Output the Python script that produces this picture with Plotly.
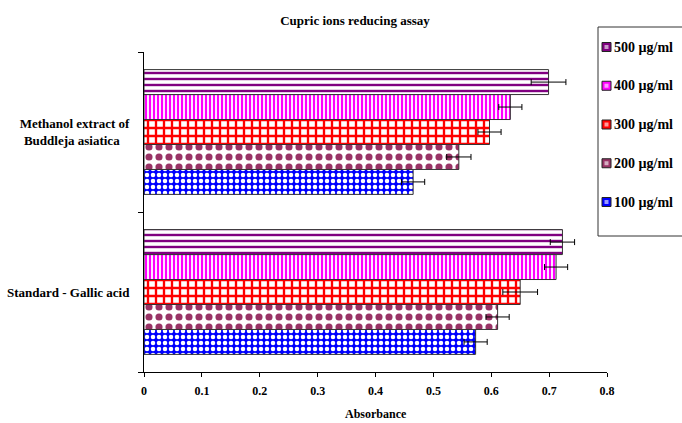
import plotly.graph_objects as go

categories = ["Standard - Gallic acid", "Methanol extract of<br>Buddleja asiatica"]
series_names = ["100 µg/ml", "200 µg/ml", "300 µg/ml", "400 µg/ml", "500 µg/ml"]
# values per series: [Standard, Methanol]
v100 = [0.573, 0.465]
v200 = [0.611, 0.544]
v300 = [0.650, 0.597]
v400 = [0.712, 0.633]
v500 = [0.723, 0.699]
e100 = [0.020, 0.020]
e200 = [0.020, 0.021]
e300 = [0.030, 0.020]
e400 = [0.020, 0.020]
e500 = [0.021, 0.030]
x_ticks = [0, 0.1, 0.2, 0.3, 0.4, 0.5, 0.6, 0.7, 0.8]
x_title = "Absorbance"

values = [v100, v200, v300, v400, v500]
errors = [e100, e200, e300, e400, e500]
styles = [
    dict(shape=".", fg="#FFFFFF", bg="#0000FF", size=6, sol=0.45),
    dict(shape=".", fg="#993366", bg="#FFFFFF", size=10, sol=0.4),
    dict(shape="+", fg="#FF0000", bg="#FFFFFF", size=8, sol=0.5),
    dict(shape="|", fg="#FF00FF", bg="#FFFFFF", size=4, sol=0.55),
    dict(shape="-", fg="#800080", bg="#FFFFFF", size=6, sol=0.4),
]
swatch_colors = ["#0000FF", "#993366", "#FF0000", "#FF00FF", "#800080"]

FONT = "Liberation Serif"
W, H = 682, 423
L, R, T, B = 144, 75, 52, 51
PW, PH = W - L - R, H - T - B


def px_x(px):
    return (px - L) / PW


def px_y(py):
    return (H - B - py) / PH


fig = go.Figure()
for name, vals, errs, st in zip(series_names, values, errors, styles):
    fig.add_trace(go.Bar(
        y=categories, x=vals, name=name, orientation="h",
        showlegend=False,
        marker=dict(
            color=st["bg"],
            line=dict(color="#333333", width=1),
            pattern=dict(shape=st["shape"], fgcolor=st["fg"], bgcolor=st["bg"],
                         size=st["size"], solidity=st["sol"], fillmode="replace"),
        ),
        error_x=dict(type="data", array=errs, visible=True, color="#000000",
                     thickness=1, width=3),
    ))

shapes = []
annotations = []
# legend box
shapes.append(dict(type="rect", xref="paper", yref="paper",
                   x0=px_x(598), x1=px_x(700), y0=px_y(236), y1=px_y(27),
                   line=dict(color="#333333", width=1), fillcolor="white", layer="above"))
for i, (name, col) in enumerate(zip(reversed(series_names), reversed(swatch_colors))):
    cy = 47 + 38.75 * i
    shapes.append(dict(type="rect", xref="paper", yref="paper",
                       x0=px_x(602), x1=px_x(611), y0=px_y(cy + 4.5), y1=px_y(cy - 4.5),
                       line=dict(color="#222222", width=1), fillcolor=col, layer="above"))
    shapes.append(dict(type="rect", xref="paper", yref="paper",
                       x0=px_x(604.5), x1=px_x(608.5), y0=px_y(cy + 2), y1=px_y(cy - 2),
                       line=dict(width=0), fillcolor="white", opacity=0.6, layer="above"))
    annotations.append(dict(xref="paper", yref="paper", x=px_x(612), y=px_y(cy),
                            xanchor="left", yanchor="middle", showarrow=False,
                            text="<b>" + name + "</b>",
                            font=dict(family=FONT, size=14, color="black")))
# x-axis title
annotations.append(dict(xref="paper", yref="paper", x=0.5, y=px_y(414),
                        xanchor="center", yanchor="middle", showarrow=False,
                        text="<b>" + x_title + "</b>",
                        font=dict(family=FONT, size=12, color="black")))

fig.update_layout(
    width=W, height=H,
    margin=dict(l=L, r=R, t=T, b=B, autoexpand=False),
    paper_bgcolor="white", plot_bgcolor="white",
    barmode="group", bargap=0.22, bargroupgap=0,
    font=dict(family=FONT, size=12, color="black"),
    title=dict(text="<b>Cupric ions reducing assay</b>", x=355 / W, xanchor="center",
               y=1 - 20 / H, yanchor="middle", font=dict(family=FONT, size=13)),
    showlegend=False,
    shapes=shapes,
    annotations=annotations,
)
fig.update_xaxes(
    range=[0, 0.8], tickvals=x_ticks,
    ticktext=["<b>%g</b>" % t for t in x_ticks],
    showline=True, linecolor="black", linewidth=1,
    ticks="outside", ticklen=4, tickcolor="black",
    showgrid=False, zeroline=False, ticklabelstandoff=4,
    tickfont=dict(family=FONT, size=12),
)
fig.update_yaxes(
    categoryorder="array", categoryarray=categories,
    tickvals=categories,
    ticktext=["<b>Standard - Gallic acid</b>",
              "<b>Methanol extract of<br>Buddleja asiatica&nbsp;&nbsp;&nbsp;</b>"],
    showline=True, linecolor="black", linewidth=1,
    ticks="outside", ticklen=5, tickcolor="black", tickson="boundaries",
    showgrid=False, zeroline=False, ticklabelstandoff=11,
    tickfont=dict(family=FONT, size=13),
)

fig.write_html("out.html", config={"displayModeBar": False},
               post_script="document.body.style.margin='0';")
